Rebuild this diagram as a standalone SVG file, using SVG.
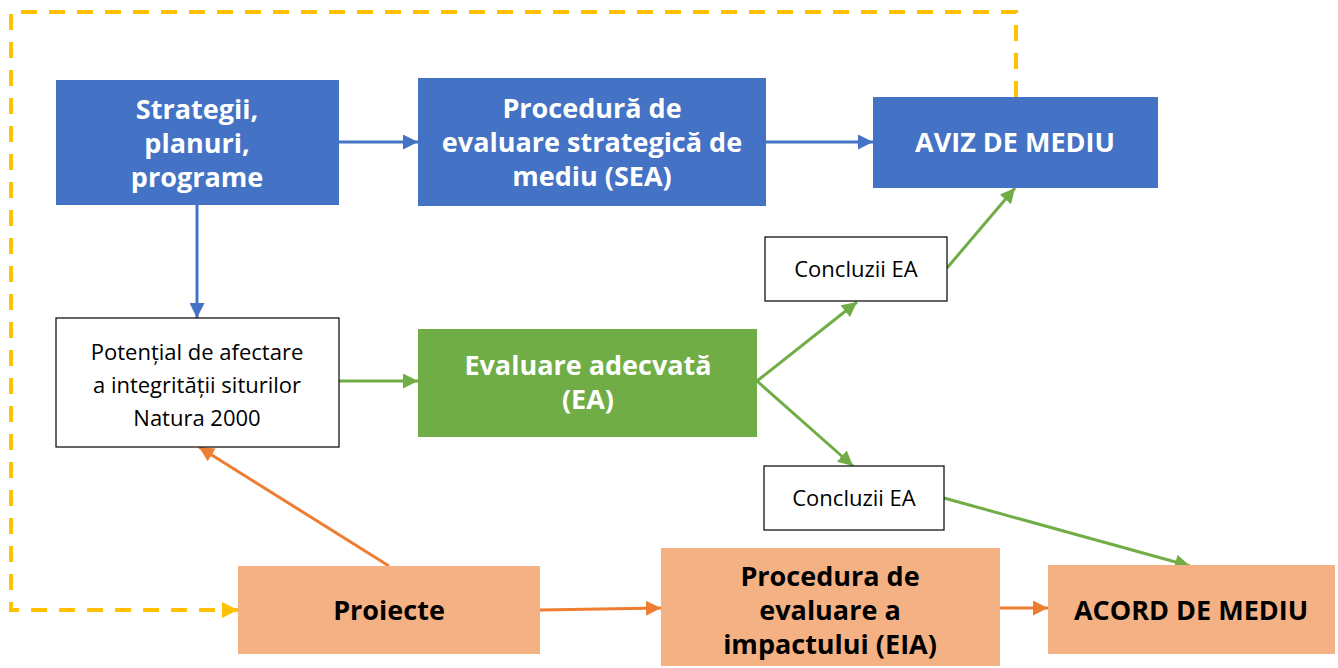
<svg xmlns="http://www.w3.org/2000/svg" width="1338" height="668" viewBox="0 0 1338 668">
<style>
text{font-family:"Open Sans","Noto Sans",sans-serif;text-anchor:middle;}
.b{font-weight:bold;font-size:27px;}
.w{fill:#FFFFFF;}
.k{fill:#000000;}
.r{font-size:22px;}
.blue{fill:#4472C4;}
.green{fill:#70AD47;}
.orange{fill:#F4B183;}
.white{fill:#FFFFFF;stroke:#000000;stroke-width:1.2;}
.cb{stroke:#4472C4;stroke-width:3;fill:none;}
.cg{stroke:#70AD47;stroke-width:3;fill:none;}
.co{stroke:#ED7D31;stroke-width:3;fill:none;}
.cy{stroke:#FFC000;stroke-width:4;fill:none;stroke-dasharray:16 12;}
</style>
<defs>
<marker id="ab" viewBox="0 0 10 10" refX="10" refY="5" markerWidth="5" markerHeight="5" orient="auto" markerUnits="strokeWidth"><path d="M0,0 L10,5 L0,10 z" fill="#4472C4"/></marker>
<marker id="ag" viewBox="0 0 10 10" refX="10" refY="5" markerWidth="5" markerHeight="5" orient="auto" markerUnits="strokeWidth"><path d="M0,0 L10,5 L0,10 z" fill="#70AD47"/></marker>
<marker id="ao" viewBox="0 0 10 10" refX="10" refY="5" markerWidth="5" markerHeight="5" orient="auto" markerUnits="strokeWidth"><path d="M0,0 L10,5 L0,10 z" fill="#ED7D31"/></marker>
<marker id="ay" viewBox="0 0 10 10" refX="10" refY="5" markerWidth="4" markerHeight="4" orient="auto" markerUnits="strokeWidth"><path d="M0,0 L10,5 L0,10 z" fill="#FFC000"/></marker>
</defs>
<g id="connectors">
<path class="cy" d="M1016,97 L1016,12 L11,12 L11,610 L238,610" marker-end="url(#ay)"/>
<line class="cb" x1="339" y1="142" x2="418" y2="142" marker-end="url(#ab)"/>
<line class="cb" x1="766" y1="142" x2="873" y2="142" marker-end="url(#ab)"/>
<line class="cb" x1="197" y1="205" x2="197" y2="318" marker-end="url(#ab)"/>
<line class="cg" x1="339" y1="381" x2="418" y2="381" marker-end="url(#ag)"/>
<line class="cg" x1="757" y1="381" x2="857" y2="302" marker-end="url(#ag)"/>
<line class="cg" x1="757" y1="381" x2="853" y2="466" marker-end="url(#ag)"/>
<line class="cg" x1="947" y1="268" x2="1015" y2="188" marker-end="url(#ag)"/>
<line class="cg" x1="944" y1="498" x2="1190" y2="566" marker-end="url(#ag)"/>
<line class="co" x1="389" y1="566" x2="199" y2="447" marker-end="url(#ao)"/>
<line class="co" x1="540" y1="610" x2="661" y2="608" marker-end="url(#ao)"/>
<line class="co" x1="1000" y1="608" x2="1048" y2="608" marker-end="url(#ao)"/>
</g>
<g id="strategii">
<rect class="blue" x="56" y="80" width="283" height="125"/>
<text class="b w" x="197" y="119">Strategii,</text>
<text class="b w" x="197" y="153">planuri,</text>
<text class="b w" x="197" y="187">programe</text>
</g>
<g id="sea">
<rect class="blue" x="418" y="78" width="348" height="128"/>
<text class="b w" x="592" y="118">Procedură de</text>
<text class="b w" x="592" y="152">evaluare strategică de</text>
<text class="b w" x="592" y="186">mediu (SEA)</text>
</g>
<g id="aviz">
<rect class="blue" x="873" y="97" width="285" height="91"/>
<text class="b w" x="1015" y="152">AVIZ DE MEDIU</text>
</g>
<g id="potential">
<rect class="white" x="56" y="318" width="283" height="129"/>
<text class="r k" x="197" y="360">Potențial de afectare</text>
<text class="r k" x="197" y="393">a integrității siturilor</text>
<text class="r k" x="197" y="426">Natura 2000</text>
</g>
<g id="ea">
<rect class="green" x="418" y="329" width="339" height="108"/>
<text class="b w" x="588" y="375">Evaluare adecvată</text>
<text class="b w" x="588" y="409">(EA)</text>
</g>
<g id="concluzii1">
<rect class="white" x="765" y="237" width="182" height="64"/>
<text class="r k" x="856" y="277">Concluzii EA</text>
</g>
<g id="concluzii2">
<rect class="white" x="764" y="466" width="180" height="64"/>
<text class="r k" x="854" y="506">Concluzii EA</text>
</g>
<g id="proiecte">
<rect class="orange" x="238" y="566" width="302" height="88"/>
<text class="b k" x="389" y="620">Proiecte</text>
</g>
<g id="eia">
<rect class="orange" x="661" y="548" width="339" height="118"/>
<text class="b k" x="830" y="586">Procedura de</text>
<text class="b k" x="830" y="620">evaluare a</text>
<text class="b k" x="830" y="654">impactului (EIA)</text>
</g>
<g id="acord">
<rect class="orange" x="1048" y="565" width="287" height="89"/>
<text class="b k" x="1191" y="620">ACORD DE MEDIU</text>
</g>
</svg>
